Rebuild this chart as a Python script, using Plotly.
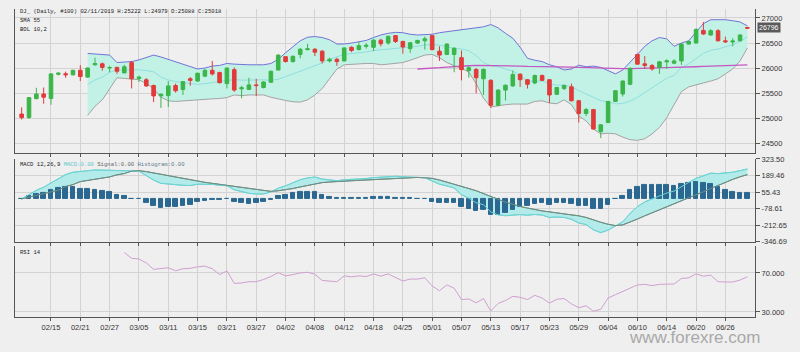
import plotly.graph_objects as go

# ---------------- data ----------------
dates = ["02/11","02/12","02/13","02/14","02/15","02/18","02/19","02/20","02/21","02/22","02/25","02/26","02/27","02/28",
"03/01","03/04","03/05","03/06","03/07","03/08","03/11","03/12","03/13","03/14","03/15","03/18","03/19","03/20","03/21","03/22","03/25","03/26","03/27","03/28","03/29",
"04/01","04/02","04/03","04/04","04/05","04/08","04/09","04/10","04/11","04/12","04/15","04/16","04/17","04/18","04/22","04/23","04/24","04/25","04/26","04/29","04/30",
"05/01","05/02","05/03","05/06","05/07","05/08","05/09","05/10","05/13","05/14","05/15","05/16","05/17","05/20","05/21","05/22","05/23","05/24","05/27","05/28","05/29","05/30","05/31",
"06/03","06/04","06/05","06/06","06/07","06/10","06/11","06/12","06/13","06/14","06/17","06/18","06/19","06/20","06/21","06/24","06/25","06/26","06/27","06/28","07/01"]

tick_labels = ["02/15","02/21","02/27","03/05","03/11","03/15","03/21","03/27","04/02","04/08","04/12","04/18",
               "04/25","05/01","05/07","05/13","05/17","05/23","05/29","06/04","06/10","06/14","06/20","06/26"]

opens = [25088,25020,25395,25487,25400,25880,25890,25868,25958,25823,
26068,26087,26005,26016,25906,26113,25797,25770,25655,25449,
25455,25655,25578,25790,25745,25842,25958,25913,25694,25971,
25590,25578,25668,25616,25720,25965,26229,26132,26274,26370,
26377,26339,26145,26177,26145,26416,26371,26435,26416,26558,
26500,26648,26532,26390,26500,26545,26648,26339,26274,26274,
26210,25952,25977,25790,25758,25262,25565,25648,25880,25771,
25707,25855,25771,25481,25597,25629,25352,25100,25177,24739,
24919,25339,25487,25681,26274,26087,26055,26016,26126,26100,
26145,26480,26500,26752,26661,26745,26545,26520,26545,26810]

highs = [25222,25425,25610,25616,25900,25920,25932,25971,26061,26016,
26210,26113,26049,26029,26068,26145,25855,25803,25674,25490,
25745,25694,25745,25823,25913,25984,26145,25932,26016,26016,
25649,25810,25790,25745,25952,26274,26242,26255,26403,26487,
26403,26358,26210,26210,26416,26435,26519,26500,26584,26584,
26648,26661,26545,26519,26565,26629,26661,26435,26494,26416,
26352,26042,26003,25997,25784,25578,25681,25952,25900,25784,
25874,25874,25784,25629,25674,25694,25371,25210,25190,24887,
25352,25565,25758,26016,26287,26242,26081,26145,26177,26177,
26500,26545,26790,26919,26777,26777,26629,26597,26674,26822]

lows = [24979,24990,25380,25294,25274,25855,25810,25855,25745,25810,
26050,25952,25920,25887,25900,25597,25726,25629,25326,25210,
25229,25513,25468,25649,25726,25823,25855,25694,25597,25532,
25403,25565,25449,25597,25707,25952,26113,26113,26197,26352,
26242,26094,26113,26049,26132,26319,26352,26390,26339,26435,
26468,26500,26287,26306,26480,26371,26352,26145,26261,25920,
25758,25810,25500,25468,25210,25242,25358,25629,25629,25597,
25681,25745,25307,25468,25565,25339,24920,25049,24778,24610,
24907,25326,25436,25662,26068,25984,25952,25887,25984,26081,
26068,26468,26487,26661,26642,26532,26500,26435,26532,26777]

closes = [25018,25416,25487,25423,25887,25900,25870,25958,25835,26003,
26094,26016,26012,25939,26029,25790,25823,25648,25449,25487,
25648,25552,25732,25758,25900,25958,25887,25713,26003,25565,
25610,25668,25655,25726,25939,26261,26132,26236,26377,26385,
26319,26145,26177,26132,26403,26352,26448,26455,26558,26487,
26635,26532,26423,26506,26552,26584,26371,26261,26480,26397,
25971,26010,25810,25977,25262,25565,25661,25874,25771,25681,
25855,25758,25468,25616,25655,25352,25100,25177,24790,24874,
25339,25552,25745,25997,26081,26055,25984,26126,26145,26145,
26480,26532,26771,26680,26745,26545,26526,26540,26661,26796]

# Bollinger (10,2) – starts at bar 9
bb_upper = [26294,26287,26274,26261,26113,26126,26132,26165,26210,26261,
26223,26177,26132,26081,26029,25984,26003,26042,26055,26094,
26081,26068,26068,26068,26068,26094,26177,26306,26435,26545,
26616,26629,26610,26565,26481,26481,26500,26519,26552,26610,
26661,26694,26713,26706,26674,26661,26661,26674,26706,26726,
26739,26758,26777,26803,26823,26868,26803,26694,26597,26416,
26197,26158,26132,26068,26029,25965,25984,26061,26029,26042,
26016,25952,25887,25965,26113,26274,26435,26545,26610,26584,
26435,26500,26545,26726,26887,26964,26971,26964,26945,26919,26842]
bb_lower = [25062,25242,25371,25578,25810,25797,25790,25771,25694,25597,
25423,25352,25339,25352,25358,25371,25384,25391,25397,25416,
25468,25455,25468,25468,25468,25423,25384,25358,25333,25326,
25371,25468,25597,25790,25984,26068,26081,26081,26094,26094,
26068,26081,26094,26113,26158,26210,26261,26274,26210,26113,
26049,26003,25920,25694,25404,25229,25255,25275,25287,25294,
25287,25339,25352,25307,25294,25371,25275,25049,24952,24791,
24694,24707,24694,24630,24578,24565,24597,24694,24823,25017,
25275,25533,25629,25662,25707,25745,25790,25887,25984,26145,26403]
bb_mid = [25678,25765,25823,25920,25962,25962,25961,25968,25952,25929,
25823,25765,25736,25717,25694,25678,25694,25717,25726,25755,
25775,25762,25768,25768,25768,25759,25781,25832,25884,25936,
25994,26049,26104,26178,26233,26275,26291,26300,26323,26352,
26365,26388,26404,26410,26416,26436,26461,26474,26458,26420,
26394,26381,26349,26249,26114,26049,26029,25985,25942,25855,
25742,25749,25742,25688,25662,25668,25630,25555,25491,25417,
25355,25330,25291,25298,25346,25420,25516,25620,25717,25801,
25855,26017,26087,26194,26297,26355,26381,26426,26465,26532,26623]

# SMA 55 – starts at bar 54
sma55 = [25984,25990,26003,26010,26023,26036,26049,26049,26055,26055,
26055,26049,26049,26042,26042,26036,26036,26029,26029,26029,
26023,26023,26016,26010,26003,25997,25990,25990,25990,25990,
25997,26003,26003,26010,26010,26016,26016,26023,26029,26036,
26042,26049,26049,26055,26061,26068]

# MACD 12,26,9
macd = [0,38,69,95,129,163,197,216,224,232,
234,233,231,229,231,228,225,189,152,126,
121,110,110,108,119,118,118,110,107,74,
58,45,40,40,56,87,106,129,155,170,
177,161,155,147,155,157,162,165,172,177,
182,183,179,179,174,171,145,119,105,89,
34,5,-31,-47,-105,-129,-136,-132,-127,-132,
-126,-131,-150,-147,-150,-165,-195,-208,-250,-273,
-252,-219,-184,-118,-63,-24,0,24,47,63,
100,134,166,190,208,205,208,216,229,242]
signal = [0,14,30,45,55,71,100,116,140,150,
158,167,178,195,205,225,228,221,210,200,
189,176,163,153,145,134,126,118,110,100,
92,82,74,66,61,66,74,84,97,110,
124,132,137,142,145,147,150,153,158,163,
168,171,174,174,174,171,166,153,137,121,
100,84,66,45,21,-3,-26,-45,-61,-74,
-87,-97,-105,-113,-118,-126,-137,-150,-171,-189,
-205,-216,-210,-189,-163,-137,-113,-89,-66,-42,
-18,8,29,58,84,110,137,158,179,197]
histogram = [0,24,39,50,74,92,97,100,84,82,
76,66,53,34,26,3,-3,-32,-58,-74,
-68,-66,-53,-45,-26,-16,-8,-8,-3,-26,
-34,-37,-34,-26,-5,21,32,45,58,60,
53,29,18,5,10,10,12,12,14,14,
14,12,5,5,0,0,-21,-34,-32,-32,
-66,-79,-97,-92,-126,-126,-110,-87,-66,-58,
-39,-34,-45,-34,-32,-39,-58,-58,-79,-84,
-47,-3,26,71,100,113,113,113,113,105,
118,126,137,132,124,95,71,58,50,45]

# RSI 14 – starts at bar 14
rsi = [91,85,84.3,80.3,73.7,74.3,75.3,72.3,74.3,74.7,
76.3,77,74.3,68.3,72,59.3,59.7,61,61,63.3,
66.3,70.3,67,68.3,70,70.7,68.7,62.3,62,61,
67,66,67,66.3,69,66.7,69,65.3,61.7,63.7,
63.7,65,56.7,51.7,57.7,54.3,42.7,43.3,39.3,43.7,
31,38.7,41.7,46,45,42.7,47,44.3,39,43,
43.7,38.3,34.3,36.3,30.7,32.7,44.3,47.7,51,54.3,
57.7,58.3,57,58.3,58.7,58.7,64.3,65,69,66.7,
67.7,61,60.7,60.7,62.7,66]

main_ticks = [24500, 25000, 25500, 26000, 26500, 27000]
macd_ticks = [-346.69, -212.65, -78.61, 55.43, 189.46, 323.50]
rsi_ticks = [30, 70]

# ---------------- figure ----------------
W, H = 800, 352
def fx(p): return p / W
def fy(p): return 1 - p / H

BG = "#efefef"
GRID = "#d3d3d3"
AX = "#555555"
SANS = "Liberation Sans, Arial, sans-serif"
TF = dict(family=SANS, size=7.5, color="#333333")
HF = "Liberation Mono, Courier New, monospace"
MAIN_RANGE = [24312, 27180]
MACD_RANGE = [-346.69, 323.5]
RSI_RANGE = [24.5, 98]

fig = go.Figure()

# Bollinger bands + SMA (base main axis)
fig.add_trace(go.Scatter(x=dates[9:], y=bb_upper, mode="lines", line=dict(color="#7272d6", width=1),
                         xaxis="x3", yaxis="y", hoverinfo="skip"))
fig.add_trace(go.Scatter(x=dates[9:], y=bb_lower, mode="lines", line=dict(color="#a3a3a3", width=1),
                         fill="tonexty", fillcolor="#c2f2e5", xaxis="x3", yaxis="y", hoverinfo="skip"))
fig.add_trace(go.Scatter(x=dates[9:], y=bb_mid, mode="lines", line=dict(color="#8fdede", width=1),
                         xaxis="x3", yaxis="y", hoverinfo="skip"))
fig.add_trace(go.Scatter(x=dates[54:], y=sma55, mode="lines", line=dict(color="#c457c4", width=1.3),
                         xaxis="x3", yaxis="y", hoverinfo="skip"))
# candles on an overlay axis so they sit above the band fill
fig.add_trace(go.Candlestick(x=dates, open=opens, high=highs, low=lows, close=closes,
                             increasing=dict(line=dict(color="#3bb54a", width=1), fillcolor="#3bb54a"),
                             decreasing=dict(line=dict(color="#e23a3a", width=1), fillcolor="#e23a3a"),
                             whiskerwidth=0, xaxis="x3", yaxis="y4", hoverinfo="skip"))

# MACD fill (base), bars + lines on overlay
fig.add_trace(go.Scatter(x=dates, y=signal, mode="lines", line=dict(color="#6e8f84", width=1),
                         xaxis="x2", yaxis="y2", hoverinfo="skip"))
fig.add_trace(go.Scatter(x=dates, y=macd, mode="lines", line=dict(color="#6fd3d3", width=1),
                         fill="tonexty", fillcolor="#b3ebea", xaxis="x2", yaxis="y2", hoverinfo="skip"))
fig.add_trace(go.Bar(x=dates, y=histogram, width=0.62, marker=dict(color="#2b6891", line=dict(color="#2b6891", width=1)),
                     xaxis="x2", yaxis="y5", hoverinfo="skip"))
fig.add_trace(go.Scatter(x=dates, y=macd, mode="lines", line=dict(color="#6fd3d3", width=1),
                         xaxis="x2", yaxis="y5", hoverinfo="skip"))
fig.add_trace(go.Scatter(x=dates, y=signal, mode="lines", line=dict(color="#6e8f84", width=1),
                         xaxis="x2", yaxis="y5", hoverinfo="skip"))

# RSI
fig.add_trace(go.Scatter(x=dates[14:], y=rsi, mode="lines", line=dict(color="#cf9fcf", width=1),
                         xaxis="x", yaxis="y3", hoverinfo="skip"))

xcommon = dict(domain=[fx(15), fx(755)], type="category", categoryorder="array", categoryarray=dates,
               range=[-0.91, 100.04], tickmode="array", tickvals=tick_labels, ticktext=tick_labels,
               ticks="outside", ticklen=3, tickcolor=AX, showgrid=True, gridcolor=GRID, gridwidth=1,
               showline=True, linecolor=AX, linewidth=1, zeroline=False, tickfont=TF, fixedrange=True)
ycommon = dict(side="right", showline=True, linecolor=AX, linewidth=1, mirror=True, ticks="outside",
               ticklen=4, tickcolor=AX, showgrid=True, gridcolor=GRID, gridwidth=1, zeroline=False,
               tickfont=TF, fixedrange=True)
yover = dict(visible=False, showgrid=False, zeroline=False, fixedrange=True)

fig.update_layout(
    width=W, height=H, margin=dict(l=0, r=0, t=0, b=0),
    paper_bgcolor=BG, plot_bgcolor=BG, showlegend=False, bargap=0,
    xaxis=dict(xcommon, anchor="y3"),
    xaxis2=dict(xcommon, anchor="y2", matches="x", showticklabels=False),
    xaxis3=dict(xcommon, anchor="y", matches="x", showticklabels=False, rangeslider=dict(visible=False)),
    yaxis=dict(ycommon, domain=[fy(153), fy(5)], anchor="x3", range=MAIN_RANGE,
               tickvals=main_ticks, ticktext=[str(v) for v in main_ticks]),
    yaxis2=dict(ycommon, domain=[fy(244), fy(159)], anchor="x2", range=MACD_RANGE,
                tickvals=macd_ticks, ticktext=["%.2f" % v for v in macd_ticks]),
    yaxis3=dict(ycommon, domain=[fy(321.5), fy(248)], anchor="x", range=RSI_RANGE,
                tickvals=rsi_ticks, ticktext=["%.3f" % v for v in rsi_ticks]),
    yaxis4=dict(yover, overlaying="y", anchor="x3", range=MAIN_RANGE),
    yaxis5=dict(yover, overlaying="y2", anchor="x2", range=MACD_RANGE),
)

def note(text, x, y, size=5.6, color="#222", family=HF, **kw):
    fig.add_annotation(text=text, x=fx(x), y=fy(y), xref="paper", yref="paper", showarrow=False,
                       xanchor=kw.pop("xanchor", "left"), yanchor=kw.pop("yanchor", "middle"),
                       font=dict(family=family, size=size, color=color), **kw)

note("DJ_ (Daily, #100) 02/11/2019 H:25222 L:24979 O:25088 C:25018", 18, 8)
note("SMA 55", 18, 17)
note("BOL 10,2", 18, 26)
note("MACD 12,26,9 <span style='color:#5cc9c9'>MACD:0.00</span> "
     "<span style='color:#666'>Signal:0.00</span> <span style='color:#5d7b8c'>Histogram:0.00</span>", 18, 165)
note("RSI 14", 18, 255)
note(str(closes[-1]), 757, 24.5, size=7, color="#ffffff", family=SANS, bgcolor="#5a5a5a", borderpad=1)
note("www.forexre.com", 628, 353, size=17, color="#a9a9a9", family=SANS, yanchor="bottom", borderpad=0)

fig.write_html("out.html")
